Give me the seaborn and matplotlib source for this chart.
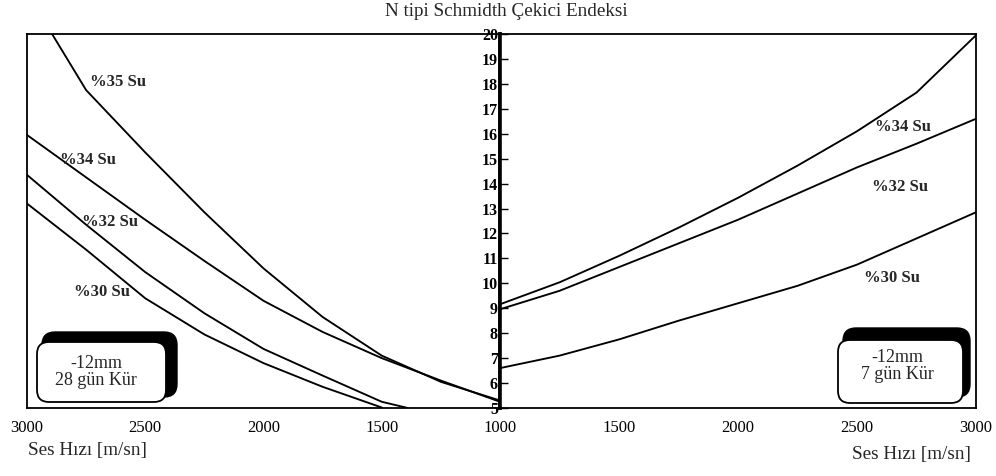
import matplotlib
matplotlib.use("Agg")
import matplotlib.pyplot as plt
from matplotlib.patches import FancyBboxPatch
from matplotlib.ticker import MultipleLocator
import seaborn as sns
import pandas as pd

# ---------------- data ----------------
title = "N tipi Schmidth Çekici Endeksi"
xlabel = "Ses Hızı [m/sn]"

# left panel: 28 days cure (x axis reversed 3000 -> 1000)
left_names = ["%35 Su", "%34 Su", "%32 Su", "%30 Su"]
left_x35 = [2894, 2750, 2500, 2250, 2000, 1750, 1500, 1250, 1000]
left_y35 = [20.0, 17.75, 15.25, 12.85, 10.6, 8.65, 7.1, 6.05, 5.3]
left_x34 = [3000, 2750, 2500, 2250, 2000, 1750, 1500, 1250, 1000]
left_y34 = [15.95, 14.25, 12.55, 10.9, 9.3, 8.05, 7.0, 6.1, 5.25]
left_x32 = [3000, 2750, 2500, 2250, 2000, 1750, 1500, 1390]
left_y32 = [14.35, 12.35, 10.45, 8.8, 7.37, 6.3, 5.25, 5.0]
left_x30 = [3000, 2750, 2500, 2250, 2000, 1750, 1500]
left_y30 = [13.2, 11.35, 9.4, 7.95, 6.8, 5.85, 5.02]

# right panel: 7 days cure
right_names = ["%34 Su", "%32 Su", "%30 Su"]
right_x = [1000, 1250, 1500, 1750, 2000, 2250, 2500, 2750, 3000]
right_y34 = [9.16, 10.04, 11.1, 12.23, 13.43, 14.72, 16.1, 17.65, 19.95]
right_y32 = [8.96, 9.7, 10.65, 11.6, 12.55, 13.6, 14.65, 15.6, 16.6]
right_y30 = [6.6, 7.1, 7.75, 8.5, 9.2, 9.9, 10.75, 11.8, 12.85]

left_xticks = [3000, 2500, 2000, 1500, 1000]
right_xticks = [1000, 1500, 2000, 2500, 3000]
right_xticklabels = ["", "1500", "2000", "2500", "3000"]
yticks = list(range(5, 21))

left_box_text = "-12mm\n28 gün Kür"
right_box_text = "-12mm\n7 gün Kür"

# ---------------- tables ----------------
left_df = pd.concat([
    pd.DataFrame({"x": left_x35, "y": left_y35, "s": left_names[0]}),
    pd.DataFrame({"x": left_x34, "y": left_y34, "s": left_names[1]}),
    pd.DataFrame({"x": left_x32, "y": left_y32, "s": left_names[2]}),
    pd.DataFrame({"x": left_x30, "y": left_y30, "s": left_names[3]}),
], ignore_index=True)
right_df = pd.concat([
    pd.DataFrame({"x": right_x, "y": right_y34, "s": right_names[0]}),
    pd.DataFrame({"x": right_x, "y": right_y32, "s": right_names[1]}),
    pd.DataFrame({"x": right_x, "y": right_y30, "s": right_names[2]}),
], ignore_index=True)

# ---------------- style ----------------
sns.set_style("white")
plt.rcParams["font.family"] = ["Liberation Serif", "DejaVu Serif"]

W, H = 996, 476
fig = plt.figure(figsize=(W / 100, H / 100), dpi=100)
fig.patch.set_facecolor("white")

axL = fig.add_axes([27 / W, 68 / H, 473 / W, 374 / H])
axR = fig.add_axes([500 / W, 68 / H, 476 / W, 374 / H])

sns.lineplot(data=left_df, x="x", y="y", hue="s",
             palette={n: "black" for n in left_names}, ax=axL,
             legend=False, linewidth=1.35, estimator=None, sort=False)
sns.lineplot(data=right_df, x="x", y="y", hue="s",
             palette={n: "black" for n in right_names}, ax=axR,
             legend=False, linewidth=1.35, estimator=None, sort=False)

# left axes
axL.set_xlim(3000, 1000)
axL.set_ylim(5, 20)
axL.set_xticks(left_xticks)
axL.xaxis.set_minor_locator(MultipleLocator(250))
axL.set_yticks([])
axL.set_xlabel("")
axL.set_ylabel("")
axL.tick_params(axis="x", which="both", direction="in", length=5, width=1,
                pad=9, labelsize=12, colors="black")
for s in ["left", "top", "bottom"]:
    axL.spines[s].set_visible(True)
    axL.spines[s].set_linewidth(1.3)
    axL.spines[s].set_color("black")
axL.spines["right"].set_linewidth(2.6)
axL.spines["right"].set_color("black")

# right axes
axR.set_xlim(1000, 3000)
axR.set_ylim(5, 20)
axR.set_xticks(right_xticks)
axR.set_xticklabels(right_xticklabels)
axR.xaxis.set_minor_locator(MultipleLocator(250))
axR.set_yticks(yticks)
axR.set_yticklabels([str(v) for v in yticks])
axR.set_xlabel("")
axR.set_ylabel("")
axR.tick_params(axis="x", which="both", direction="in", length=5, width=1,
                pad=9, labelsize=12, colors="black")
axR.tick_params(axis="y", which="major", direction="in", length=6, width=1,
                pad=1.5, labelsize=11.5, colors="black", left=True, labelleft=True)
for s in ["right", "top", "bottom"]:
    axR.spines[s].set_visible(True)
    axR.spines[s].set_linewidth(1.3)
    axR.spines[s].set_color("black")
axR.spines["left"].set_linewidth(2.6)
axR.spines["left"].set_color("black")
for lab in axR.get_yticklabels():
    lab.set_fontweight("bold")

# curve labels
left_label_pos = [(2615, 18.07), (2742, 14.94), (2649, 12.45), (2683, 9.64)]
right_label_pos = [(2693, 16.27), (2681, 13.86), (2647, 10.2)]
for name, (x, y) in zip(left_names, left_label_pos):
    axL.text(x, y, name, ha="center", va="center", fontsize=12,
             fontweight="bold", zorder=5)
for name, (x, y) in zip(right_names, right_label_pos):
    axR.text(x, y, name, ha="center", va="center", fontsize=12,
             fontweight="bold", zorder=5)

# boxes with shadow (coordinates in inches from bottom-left)
def shadow_box(shadow, box, text, tx, ty):
    sh = FancyBboxPatch((shadow[0], shadow[1]), shadow[2], shadow[3],
                        boxstyle="round,pad=0,rounding_size=0.13",
                        transform=fig.dpi_scale_trans, facecolor="black",
                        edgecolor="black", linewidth=1, zorder=10)
    wb = FancyBboxPatch((box[0], box[1]), box[2], box[3],
                        boxstyle="round,pad=0,rounding_size=0.12",
                        transform=fig.dpi_scale_trans, facecolor="white",
                        edgecolor="black", linewidth=1.3, zorder=11)
    fig.patches.extend([sh, wb])
    fig.text(tx / W, 1 - ty / H, text, ha="center", va="center",
             fontsize=13, linespacing=1.05, zorder=12)

shadow_box((0.42, 0.79, 1.35, 0.65), (0.37, 0.74, 1.29, 0.60),
           left_box_text, 96, 372)
shadow_box((8.43, 0.79, 1.27, 0.69), (8.38, 0.73, 1.25, 0.63),
           right_box_text, 897, 366)

# titles / axis labels
fig.text(506 / W, 1 - 12 / H, title, ha="center", va="center", fontsize=13.8)
fig.text(28 / W, 1 - 450 / H, xlabel, ha="left", va="center", fontsize=13.8)
fig.text(971 / W, 1 - 455 / H, xlabel, ha="right", va="center", fontsize=13.8)

fig.savefig("out.png", dpi=100, facecolor="white")
